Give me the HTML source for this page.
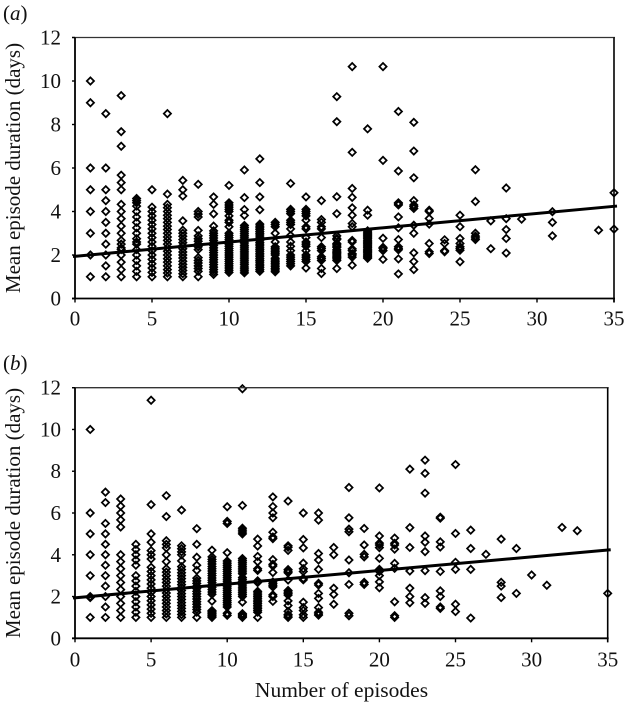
<!DOCTYPE html>
<html>
<head>
<meta charset="utf-8">
<title>Mean episode duration vs number of episodes</title>
<style>
html,body{margin:0;padding:0;background:#fff;}
svg{display:block;}
text{font-family:"Liberation Serif",serif;fill:#111;}
</style>
</head>
<body>
<svg id="chart" width="625" height="702" viewBox="0 0 625 702" xmlns="http://www.w3.org/2000/svg"></svg>
<script>
const xTicks = [0,5,10,15,20,25,30,35];
const yTicks = [0,2,4,6,8,10,12];
const trendA = [[0,1.93],[35,4.25]];
const trendB = [[0,1.93],[35,4.24]];
const seriesA = {
1:[1,2,3,4,5,6,9,10],
2:[1,1.5,2,2.5,3,3.5,4,4.5,5,6,8.5],
3:[1,1.33,1.67,2,2.25,2.33,2.5,2.67,3,3.33,3.67,4,4.33,5,5.33,5.67,7,7.67,9.33],
4:[1,1.25,1.5,1.75,2,2.25,2.5,2.6,2.75,3,3.25,3.5,3.75,4,4.25,4.4,4.5,4.6],
5:[1,1.2,1.4,1.6,1.8,2,2.2,2.4,2.6,2.8,3,3.2,3.4,3.6,3.8,4,4.2,5],
6:[1,1.17,1.33,1.5,1.67,1.83,2,2.17,2.33,2.5,2.67,2.83,3,3.17,3.33,3.5,3.67,3.83,4,4.17,4.33,4.8,8.5],
7:[1,1.14,1.29,1.43,1.57,1.71,1.86,2,2.14,2.29,2.43,2.57,2.71,2.86,3,3.14,3.57,4.71,5,5.43],
8:[1,1.25,1.38,1.5,1.63,1.75,1.88,2.25,2.38,2.5,2.63,2.75,2.88,3.13,3.75,3.88,4,5.25],
9:[1.11,1.22,1.33,1.44,1.56,1.67,1.78,1.89,2,2.11,2.22,2.33,2.44,2.56,2.67,2.78,2.89,3,3.11,3.33,3.89,4.33,4.67],
10:[1.2,1.3,1.4,1.5,1.6,1.7,1.8,1.9,2,2.1,2.2,2.3,2.4,2.5,2.6,2.7,2.8,2.9,3,3.3,3.5,3.6,3.8,4,4.1,4.2,4.3,4.4,5.2],
11:[1.18,1.27,1.36,1.45,1.55,1.64,1.73,1.82,1.91,2,2.09,2.18,2.27,2.36,2.45,2.55,2.64,2.73,2.82,2.91,3,3.09,3.18,3.27,3.36,3.82,4.09,4.64,5.91],
12:[1.25,1.33,1.42,1.5,1.58,1.67,1.75,1.83,1.92,2,2.08,2.17,2.25,2.33,2.42,2.5,2.58,2.67,2.75,2.83,2.92,3,3.08,3.17,3.25,3.33,3.42,4.08,4.67,5.33,6.42],
13:[1.23,1.31,1.38,1.46,1.54,1.62,1.69,1.77,1.85,2,2.08,2.15,2.23,2.31,2.38,2.6,3,3.3,3.4,3.5],
14:[1.5,1.6,1.7,1.8,1.9,2,2.2,2.4,2.6,2.9,3.2,3.4,3.5,3.6,3.9,4,4.1,5.29],
15:[1.4,1.7,1.8,1.9,2,2.2,2.4,2.5,2.6,2.8,3.2,3.3,3.6,3.8,3.9,4,4.1,4.67],
16:[1.15,1.38,1.75,1.84,1.92,2.2,2.3,2.38,2.8,3.2,3.3,3.5,3.63,4.5],
17:[1.38,1.75,1.82,1.88,1.94,2,2.06,2.12,2.18,2.24,2.35,2.41,2.47,2.53,2.71,2.76,2.88,3.9,4.68,8.13,9.28],
18:[1.53,1.9,2,2.06,2.2,2.28,2.6,2.67,3.3,3.45,3.83,4.17,4.65,5.06,6.72,10.66],
19:[1.85,1.9,1.95,2,2.05,2.11,2.16,2.21,2.26,2.32,2.37,2.42,2.47,2.53,2.58,2.63,2.68,2.74,2.79,2.84,2.89,2.95,3,3.05,3.11,3.83,4.06,7.8],
20:[1.8,2.2,2.3,2.35,2.77,6.35,10.66],
21:[1.13,1.82,2.24,2.3,2.38,2.71,3.25,3.75,4.3,4.35,4.4,5.86,8.6],
22:[1.33,1.7,2.1,3,3.37,4.14,4.23,4.3,4.5,5.55,6.78,8.1],
23:[2.07,2.15,2.53,3.42,3.68,4,4.06],
24:[2.15,2.2,2.53,2.7],
25:[1.69,2.22,2.3,2.38,2.53,2.76,3.3,3.83],
26:[2.71,2.79,2.87,3,4.46,5.92],
27:[2.29,3.57],
28:[2.09,2.76,3.17,3.67,5.08],
29:[3.65],
31:[2.88,3.5,3.99],
34:[3.14],
35:[3.19,4.86]
};
const seriesB = {
1:[1,1.95,2,3,4,5,6,10],
2:[1,1.5,2,2.5,3,3.5,4,4.5,5,5.5,6.5,7],
3:[1,1.33,1.67,2,2.33,2.67,3,3.33,3.67,4,5.33,5.67,6,6.33,6.67],
4:[1,1.25,1.5,1.75,2,2.25,2.5,2.75,3,3.5,3.75,4,4.25,4.5],
5:[1,1.2,1.4,1.6,1.8,2,2.2,2.4,2.6,2.8,3,3.2,3.4,3.8,4,4.2,4.6,5,6.4,11.4],
6:[1,1.17,1.33,1.5,1.67,1.83,2,2.17,2.33,2.5,2.67,2.83,3,3.17,3.33,3.67,4,4.33,4.5,4.67,5.83,6.83],
7:[1,1.14,1.29,1.43,1.57,1.71,1.86,2,2.14,2.29,2.43,2.57,2.71,2.86,3,3.14,3.29,3.43,3.71,4,4.14,4.29,4.43,6.14],
8:[1,1.25,1.38,1.5,1.63,1.75,1.88,2,2.13,2.25,2.38,2.5,2.63,2.75,2.88,3.25,3.5,3.88,4.5,5.25],
9:[1,1.06,1.11,1.17,1.22,1.28,1.33,1.78,2.11,2.22,2.33,2.44,2.56,2.67,2.78,2.89,3,3.11,3.22,3.33,3.44,3.56,3.67,3.78,3.9,4.22],
10:[1.1,1.2,1.5,1.6,1.7,1.8,1.9,2,2.1,2.2,2.3,2.4,2.5,2.6,2.7,2.8,2.9,3,3.1,3.2,3.3,3.4,3.5,3.6,3.7,4.1,5.5,5.6,6.3],
11:[1,1.05,1.09,1.14,1.18,1.73,2,2.09,2.18,2.27,2.36,2.45,2.55,2.64,2.73,2.82,2.91,3.09,3.18,3.27,3.36,3.45,3.55,3.64,3.73,3.82,5,5.09,5.18,5.27,6.36,11.95],
12:[1,1.25,1.33,1.42,1.5,1.58,1.67,1.75,1.83,1.92,2,2.08,2.17,2.25,2.67,2.75,3.25,3.33,3.67,3.92,4.42,4.75],
13:[1.77,2,2.08,2.46,2.54,2.62,2.7,3.15,3.46,3.54,3.77,4.77,4.85,5.08,5.77,6,6.31,6.77],
14:[1,1.07,1.14,1.29,1.57,1.79,2.07,2.14,2.21,2.29,2.79,3.14,3.21,3.29,4.21,4.36,4.43,6.57],
15:[1,1.13,1.33,1.47,1.73,2.8,2.87,3.2,3.33,3.6,4.33,4.73,6],
16:[1.11,1.17,1.25,1.47,1.91,2.15,2.55,2.63,3.3,3.75,4.06,5.66,6],
17:[1.63,2.1,2.4,4,4.35],
18:[1.08,1.2,2.58,3.14,3.75,5.1,5.23,5.77,7.22],
19:[2.58,2.68,3.9,4.02,4.47,5.26],
20:[2.42,2.7,3,3.2,3.3,3.83,4.34,4.47,4.56,4.9,7.2],
21:[1,1.08,1.75,3.35,3.59,4.27,4.47,4.55,4.8],
22:[1.7,2,2.4,3.22,4.35,5.3,8.1],
23:[1.67,1.95,3.24,4.15,4.6,4.9,6.95,7.9,8.53],
24:[1.43,1.5,2,2.27,3.2,4.37,4.62,5.75,5.8],
25:[1.28,1.63,3.3,3.64,5.02,8.32],
26:[0.97,3.3,4.3,5.18],
27:[4.02],
28:[1.95,2.5,2.68,4.75],
29:[2.15,4.3],
30:[3.03],
31:[2.54],
32:[5.31],
33:[5.15],
35:[2.15]
};
const NS = 'http://www.w3.org/2000/svg';
const svg = document.getElementById('chart');
function mk(parent, tag, attrs, txt){
  const e = document.createElementNS(NS, tag);
  for (const k in attrs) e.setAttribute(k, attrs[k]);
  if (txt !== undefined) e.textContent = txt;
  parent.appendChild(e);
  return e;
}
function drawPanel(p){
  const sx = v => p.x0 + (p.x1 - p.x0) * v / 35;
  const sy = v => p.y0 - (p.y0 - p.y1) * v / 12;
  const g = mk(svg, 'g', {});
  
  

  const label = mk(g, 'text', {x: 3, y: p.labelY, 'font-size': 21}, '(');
  
  
  mk(label, 'tspan', {'font-style': 'italic'}, p.id);
  mk(label, 'tspan', {}, ')');

  const pts = mk(g, 'g', {fill: 'none', stroke: '#000', 'stroke-width': 1.75});
  
  
  for (const k of Object.keys(p.data)) {
    for (const v of p.data[k]) {
      const cx = sx(+k), cy = sy(v), r = 3.6;
      const d = mk(pts, 'path', {d: `M${cx-r} ${cy}L${cx} ${cy-r}L${cx+r} ${cy}L${cx} ${cy+r}Z`});
      
      
    }
  }

  const tl = mk(g, 'line', {x1: sx(p.trend[0][0]) - 2, y1: sy(p.trend[0][1]), x2: sx(p.trend[1][0]) + 3, y2: sy(p.trend[1][1]), stroke: '#000', 'stroke-width': 3});
  
  

  const top = mk(g, 'line', {x1: sx(0) - 3, y1: sy(12), x2: sx(35) + 1, y2: sy(12), stroke: '#333', 'stroke-width': 1.3});
  
  
  const right = mk(g, 'line', {x1: sx(35), y1: sy(12), x2: sx(35), y2: sy(0) + 4, stroke: '#000', 'stroke-width': 1.6});
  
  
  const yAxis = mk(g, 'line', {x1: sx(0), y1: sy(12), x2: sx(0), y2: sy(0) + 1, stroke: '#000', 'stroke-width': 1.8});
  
  
  const xAxis = mk(g, 'line', {x1: sx(0) - 3, y1: sy(0), x2: sx(35) + 1, y2: sy(0), stroke: '#000', 'stroke-width': 1.8});
  
  

  for (const t of xTicks) {
    const tk = mk(g, 'line', {x1: sx(t), y1: sy(0), x2: sx(t), y2: sy(0) + 4, stroke: '#000', 'stroke-width': 1.4});
    
    
    const lb = mk(g, 'text', {x: sx(t), y: sy(0) + p.xLabelDy, 'font-size': 21, 'text-anchor': 'middle'}, t);
    
    
  }
  for (const t of yTicks) {
    const tk = mk(g, 'line', {x1: sx(0) - 3, y1: sy(t), x2: sx(0), y2: sy(t), stroke: '#000', 'stroke-width': 1.4});
    
    
    const lb = mk(g, 'text', {x: 61, y: sy(t) + 7, 'font-size': 21, 'text-anchor': 'end'}, t);
    
    
  }
  const yT = mk(g, 'text', {transform: `translate(20,${(p.y0 + p.y1) / 2}) rotate(-90)`, 'font-size': 21, 'text-anchor': 'middle'}, 'Mean episode duration (days)');
  
  
}
drawPanel({id: 'a', x0: 75, x1: 614, y0: 298.5, y1: 37.5, data: seriesA, trend: trendA, labelY: 20, xLabelDy: 27});
drawPanel({id: 'b', x0: 75, x1: 607.7, y0: 638.3, y1: 387.7, data: seriesB, trend: trendB, labelY: 370, xLabelDy: 28});
const xTitle = mk(svg, 'text', {x: 341.5, y: 697, 'font-size': 21.5, 'text-anchor': 'middle'}, 'Number of episodes');


</script>
</body>
</html>
